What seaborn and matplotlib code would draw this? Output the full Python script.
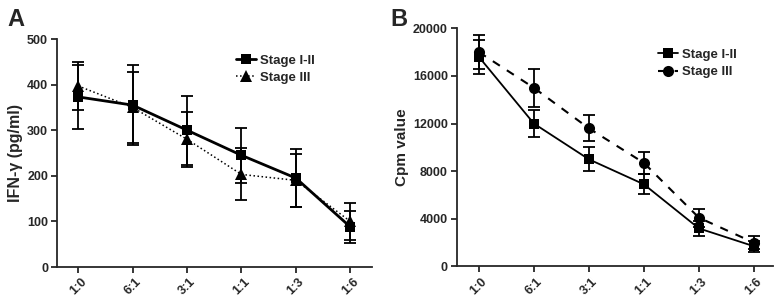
import matplotlib
matplotlib.use("Agg")
import matplotlib.pyplot as plt
import pandas as pd
import seaborn as sns
import numpy as np

# ratios on the x axis
ratios = ["1:0", "6:1", "3:1", "1:1", "1:3", "1:6"]

# panel A: IFN-gamma (pg/ml), mean and error
ifn_stage12 = [373, 355, 300, 245, 195, 88]
ifn_stage12_err = [70, 88, 76, 60, 64, 35]
ifn_stage3 = [397, 350, 280, 203, 190, 100]
ifn_stage3_err = [52, 77, 60, 57, 58, 40]

# panel B: Cpm value, mean and error
cpm_stage12 = [17600, 12000, 9000, 6900, 3200, 1700]
cpm_stage12_err = [1400, 1150, 1000, 850, 650, 450]
cpm_stage3 = [18000, 15000, 11600, 8700, 4100, 2000]
cpm_stage3_err = [1450, 1600, 1100, 950, 750, 550]

sns.set_style("ticks")
plt.rcParams['font.family'] = ['Liberation Sans', 'DejaVu Sans']
plt.rcParams['font.weight'] = 'bold'

fig = plt.figure(figsize=(7.77, 3.04), dpi=100)
axA = fig.add_axes([0.0734, 0.1217, 0.4054, 0.75])
axB = fig.add_axes([0.588, 0.1234, 0.407, 0.7836])

xpos = np.arange(len(ratios))


def draw(ax, y12, e12, y3, e3, ls3, lw12, lw3, m3, ms12, ms3):
    df = pd.DataFrame({"x": xpos, "s12": y12, "s3": y3})
    sns.lineplot(data=df, x="x", y="s3", ax=ax, color="black", linestyle=ls3,
                 linewidth=lw3, marker=m3, markersize=ms3, markeredgewidth=0,
                 label="Stage III", zorder=3)
    sns.lineplot(data=df, x="x", y="s12", ax=ax, color="black", linestyle="-",
                 linewidth=lw12, marker="s", markersize=ms12, markeredgewidth=0,
                 label="Stage I-II", zorder=4)
    ax.errorbar(xpos, y3, yerr=e3, fmt="none", ecolor="black", elinewidth=1.3,
                capsize=4, capthick=1.3, zorder=2)
    ax.errorbar(xpos, y12, yerr=e12, fmt="none", ecolor="black", elinewidth=1.3,
                capsize=4, capthick=1.3, zorder=2)
    sns.despine(ax=ax)
    for s in ["left", "bottom"]:
        ax.spines[s].set_linewidth(1.3)
    ax.set_xticks(xpos)
    ax.set_xticklabels(ratios, rotation=45, ha="center", fontsize=9, fontweight="bold")
    ax.tick_params(axis="both", width=1.3, length=4.5, labelsize=9, pad=2)
    ax.set_xlabel("")
    h, l = ax.get_legend_handles_labels()
    ax.legend(h[::-1], l[::-1], frameon=False, handlelength=1.5, handletextpad=0.3,
              labelspacing=0.4, prop={"weight": "bold", "size": 9.5})


draw(axA, ifn_stage12, ifn_stage12_err, ifn_stage3, ifn_stage3_err,
     ":", 2.0, 1.1, "^", 7, 8)
axA.set_xlim(-0.39, 5.4)
axA.set_ylim(0, 500)
axA.set_yticks([0, 100, 200, 300, 400, 500])
axA.set_ylabel("IFN-γ (pg/ml)", fontsize=11.5, fontweight="bold", labelpad=3)
axA.legend_.set_bbox_to_anchor((0.53, 0.985), transform=axA.transAxes)
axA.legend_._loc = 2

draw(axB, cpm_stage12, cpm_stage12_err, cpm_stage3, cpm_stage3_err,
     (0, (4, 4)), 1.3, 1.5, "o", 6.5, 8)
axB.set_xlim(-0.4, 5.35)
axB.set_ylim(0, 20000)
axB.set_yticks([0, 4000, 8000, 12000, 16000, 20000])
axB.set_ylabel("Cpm value", fontsize=11, fontweight="bold", labelpad=3)
axB.legend_.set_bbox_to_anchor((0.6, 0.965), transform=axB.transAxes)
axB.legend_._loc = 2

fig.text(0.010, 0.975, "A", fontsize=17, fontweight="bold", va="top")
fig.text(0.503, 0.975, "B", fontsize=17, fontweight="bold", va="top")

fig.savefig("out.png", dpi=100)
